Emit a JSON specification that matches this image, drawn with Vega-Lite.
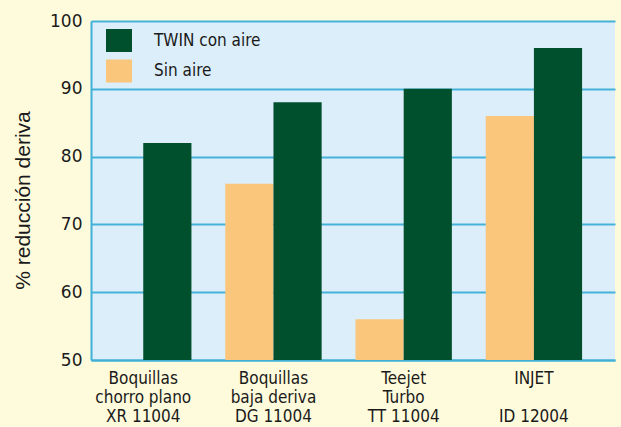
{
  "$schema": "https://vega.github.io/schema/vega-lite/v6.json",
  "width": 524,
  "height": 339,
  "autosize": "none",
  "padding": {"left": 91, "top": 21, "right": 6, "bottom": 67},
  "background": "#FEFBDC",
  "config": {
    "view": {"fill": "#DCEEF9", "stroke": null}
  },
  "data": {
    "values": [
      {"boquilla": "Boquillas|chorro plano|XR 11004", "serie": "TWIN con aire", "valor": 82},
      {"boquilla": "Boquillas|baja deriva|DG 11004", "serie": "Sin aire", "valor": 76},
      {"boquilla": "Boquillas|baja deriva|DG 11004", "serie": "TWIN con aire", "valor": 88},
      {"boquilla": "Teejet|Turbo|TT 11004", "serie": "Sin aire", "valor": 56},
      {"boquilla": "Teejet|Turbo|TT 11004", "serie": "TWIN con aire", "valor": 90},
      {"boquilla": "INJET|\u2800|ID 12004", "serie": "Sin aire", "valor": 86},
      {"boquilla": "INJET|\u2800|ID 12004", "serie": "TWIN con aire", "valor": 96}
    ]
  },
  "mark": {"type": "bar"},
  "encoding": {
    "x": {
      "field": "boquilla",
      "type": "nominal",
      "sort": null,
      "scale": {"paddingInner": 0.26, "paddingOuter": 0.142, "align": 0.11},
      "axis": {
        "title": null,
        "labelAngle": 0,
        "labelExpr": "split(datum.label, '|')",
        "labelFont": "DejaVu Sans Condensed, sans-serif",
        "labelFontSize": 17,
        "labelLineHeight": 19,
        "labelColor": "#1a1a1a",
        "labelPadding": 10,
        "ticks": false,
        "domainColor": "#3FB0D8",
        "domainWidth": 2,
        "grid": false
      }
    },
    "xOffset": {
      "field": "serie",
      "type": "nominal",
      "sort": ["Sin aire", "TWIN con aire"],
      "scale": {"paddingInner": 0, "paddingOuter": 0}
    },
    "y": {
      "field": "valor",
      "type": "quantitative",
      "scale": {"domain": [50, 100], "zero": false, "nice": false},
      "axis": {
        "title": "% reducción deriva",
        "values": [50, 60, 70, 80, 90, 100],
        "titleFont": "Liberation Sans",
        "titleFontSize": 21,
        "titleFontWeight": "normal",
        "titleColor": "#1a1a1a",
        "titleX": -58,
        "titleY": 179,
        "titleAngle": -90,
        "titleAlign": "center",
        "titleBaseline": "bottom",
        "labelFont": "DejaVu Sans, sans-serif",
        "labelFontSize": 17,
        "labelColor": "#1a1a1a",
        "labelPadding": 9,
        "ticks": false,
        "domainColor": "#3FB0D8",
        "domainWidth": 2,
        "gridColor": "#45B3D9",
        "gridWidth": 2,
        "gridOpacity": 1
      }
    },
    "y2": {"datum": 50},
    "color": {
      "field": "serie",
      "type": "nominal",
      "scale": {"domain": ["TWIN con aire", "Sin aire"], "range": ["#004F2D", "#F9C67B"]},
      "legend": {
        "title": null,
        "orient": "none",
        "legendX": 15,
        "legendY": 6.5,
        "padding": 0,
        "symbolType": "M-1,-0.885H1V0.885H-1Z",
        "symbolSize": 676,
        "symbolStrokeWidth": 0,
        "labelOffset": 22,
        "rowPadding": 5.5,
        "labelFont": "DejaVu Sans Condensed, sans-serif",
        "labelFontSize": 17,
        "labelColor": "#1a1a1a"
      }
    }
  }
}
